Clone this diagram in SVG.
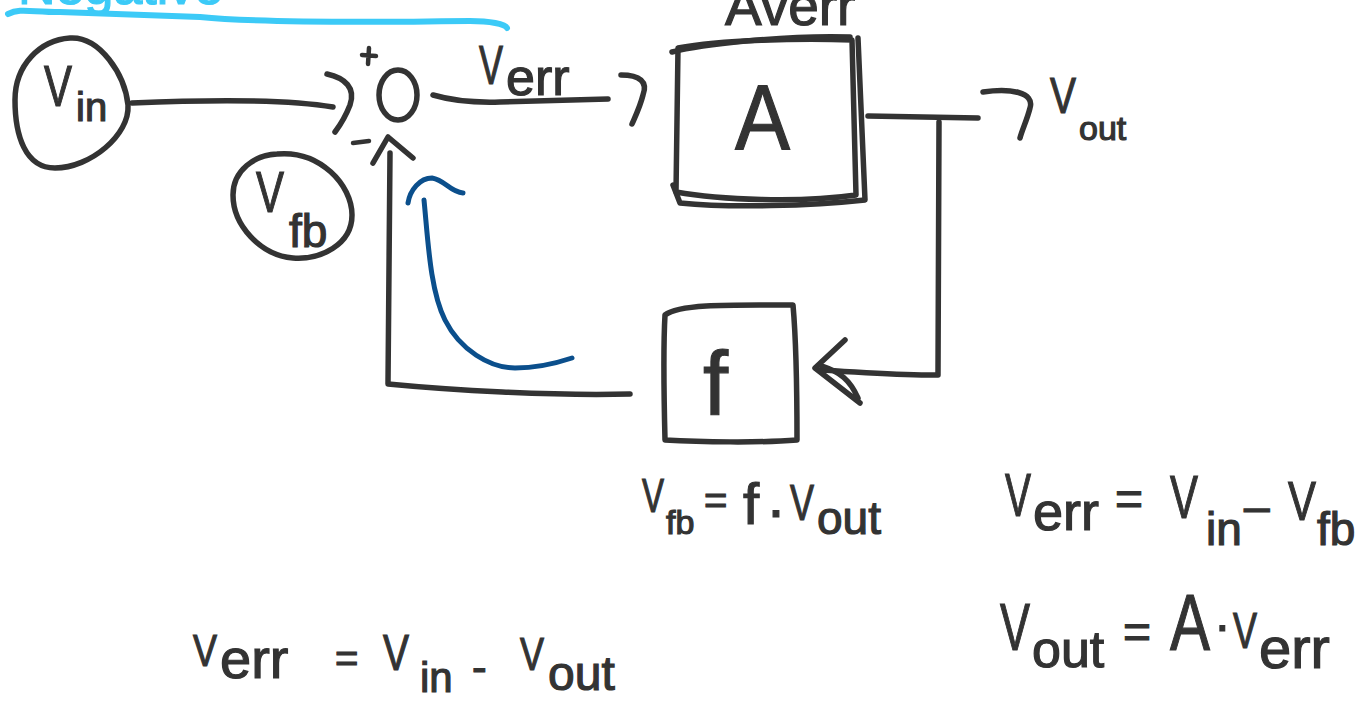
<svg xmlns="http://www.w3.org/2000/svg" width="1360" height="706" viewBox="0 0 1360 706">
<style>
.ink{fill:none;stroke:#333;stroke-width:5.5;stroke-linecap:round;stroke-linejoin:round}
.thin{fill:none;stroke:#333;stroke-width:4.5;stroke-linecap:round;stroke-linejoin:round}
.blue{fill:none;stroke:#0b4f8c;stroke-width:5;stroke-linecap:round;stroke-linejoin:round}
.cyan{fill:none;stroke:#3ccaf7;stroke-width:6;stroke-linecap:round;stroke-linejoin:round}
text{font-family:"Liberation Sans",Arial,sans-serif;fill:#333;stroke:#333;stroke-width:1.2}
.ct{fill:#3ccaf7;stroke:#3ccaf7}
</style>
<rect width="1360" height="706" fill="#fff"/>

<g id="title">
  <text class="ct" x="18" y="4" font-size="52">Negative</text>
  <path class="cyan" d="M8 14 C20 8 30 12 60 12 L200 17 C260 23 400 22 470 21 C490 21 505 24 507 28"/>
</g>

<g id="vin">
  <path class="ink" d="M70 38 C100 36 125 75 128 105 C130 135 90 168 55 168 C25 168 15 135 15 100 C15 65 40 40 70 38 Z"/>
  <text x="44" y="106" font-size="58" textLength="28" lengthAdjust="spacingAndGlyphs">V</text>
  <text x="76" y="121" font-size="40">in</text>
</g>

<g id="sum">
  <ellipse class="ink" cx="398" cy="95" rx="19" ry="25"/>
  <path class="thin" d="M362 55 L376 56 M369 48 L368 64"/>
  <path class="thin" d="M353 143 L369 141"/>
</g>

<g id="vfb">
  <path class="ink" d="M277 154 C320 150 352 185 352 215 C352 245 320 260 293 258 C260 255 233 225 233 195 C233 170 255 155 277 154 Z"/>
  <text x="256" y="212" font-size="58" textLength="28" lengthAdjust="spacingAndGlyphs">V</text>
  <text x="289" y="247" font-size="46">fb</text>
</g>

<g id="amp">
  <path class="ink" d="M678 48 C720 40 800 38 852 40 L856 195 C800 203 720 200 676 192 Z"/>
  <path class="ink" d="M672 52 C700 45 780 35 850 37 M858 38 L865 200 C810 206 730 208 680 203 L673 185"/>
  <text x="735" y="150" font-size="92" textLength="55" lengthAdjust="spacingAndGlyphs">A</text>
  <text x="725" y="25" font-size="55">Averr</text>
</g>

<g id="feedback">
  <path class="ink" d="M665 315 C680 303 740 305 793 305 C797 350 797 400 797 440 C760 443 700 442 665 440 C664 400 663 350 665 315 Z"/>
  <text x="703" y="415" font-size="90">f</text>
</g>

<g id="connectors">
  <path class="ink" d="M132 103 C200 100 280 98 333 107"/>
  <path class="ink" d="M327 74 C345 78 356 88 350 105 C345 118 338 128 335 132"/>
  <path class="ink" d="M433 95 C450 100 470 103 500 102 L608 99"/>
  <path class="ink" d="M621 75 C640 75 648 82 643 95 C640 107 635 117 632 124"/>
  <path class="ink" d="M868 116 L978 118"/>
  <path class="ink" d="M983 92 C1010 88 1035 92 1030 108 C1027 120 1022 130 1020 138"/>
  <path class="ink" d="M939 122 L938 375 C900 376 860 372 820 370"/>
  <path class="ink" d="M845 340 L815 368 L860 403 M822 366 C840 372 850 380 858 398"/>
  <path class="ink" d="M630 394 C550 396 450 390 388 384 L390 153"/>
  <path class="ink" d="M373 163 L388 137 L413 158"/>
  <path class="blue" d="M424 200 C428 240 430 290 445 320 C460 350 490 368 515 368 C540 368 560 362 572 358"/>
  <path class="blue" d="M408 203 C410 190 420 178 432 178 C445 180 450 192 463 193"/>
</g>

<g id="labels">
  <text x="479" y="84" font-size="55" textLength="24" lengthAdjust="spacingAndGlyphs">V</text>
  <text x="506" y="95" font-size="52">err</text>
  <text x="1050" y="113" font-size="50" textLength="26" lengthAdjust="spacingAndGlyphs">V</text>
  <text x="1079" y="140" font-size="34">out</text>
</g>

<g id="eq-fb">
  <text x="642" y="512" font-size="48" textLength="22" lengthAdjust="spacingAndGlyphs">V</text>
  <text x="666" y="534" font-size="34">fb</text>
  <text x="704" y="514" font-size="40">=</text>
  <text x="743" y="524" font-size="58">f</text>
  <text x="766" y="530" font-size="60">·</text>
  <text x="790" y="520" font-size="50" textLength="24" lengthAdjust="spacingAndGlyphs">V</text>
  <text x="817" y="534" font-size="46">out</text>
</g>

<g id="eq-err">
  <text x="1005" y="516" font-size="62" textLength="26" lengthAdjust="spacingAndGlyphs">V</text>
  <text x="1033" y="530" font-size="54">err</text>
  <text x="1115" y="515" font-size="48">=</text>
  <text x="1170" y="518" font-size="62" textLength="28" lengthAdjust="spacingAndGlyphs">V</text>
  <text x="1206" y="545" font-size="46">in</text>
  <text x="1244" y="522" font-size="46">–</text>
  <text x="1288" y="520" font-size="56" textLength="28" lengthAdjust="spacingAndGlyphs">V</text>
  <text x="1317" y="545" font-size="46">fb</text>
</g>

<g id="eq-out">
  <text x="1000" y="650" font-size="66" textLength="30" lengthAdjust="spacingAndGlyphs">V</text>
  <text x="1032" y="667" font-size="52">out</text>
  <text x="1123" y="648" font-size="48">=</text>
  <text x="1170" y="650" font-size="80" textLength="40" lengthAdjust="spacingAndGlyphs">A</text>
  <text x="1214" y="642" font-size="50">·</text>
  <text x="1233" y="648" font-size="50" textLength="24" lengthAdjust="spacingAndGlyphs">V</text>
  <text x="1259" y="668" font-size="58">err</text>
</g>

<g id="eq-bottom">
  <text x="193" y="666" font-size="45" textLength="24" lengthAdjust="spacingAndGlyphs">V</text>
  <text x="220" y="678" font-size="56">err</text>
  <text x="335" y="672" font-size="40">=</text>
  <text x="383" y="670" font-size="50" textLength="26" lengthAdjust="spacingAndGlyphs">V</text>
  <text x="420" y="692" font-size="42">in</text>
  <text x="472" y="682" font-size="44">-</text>
  <text x="520" y="670" font-size="46" textLength="24" lengthAdjust="spacingAndGlyphs">V</text>
  <text x="548" y="690" font-size="48">out</text>
</g>
</svg>
